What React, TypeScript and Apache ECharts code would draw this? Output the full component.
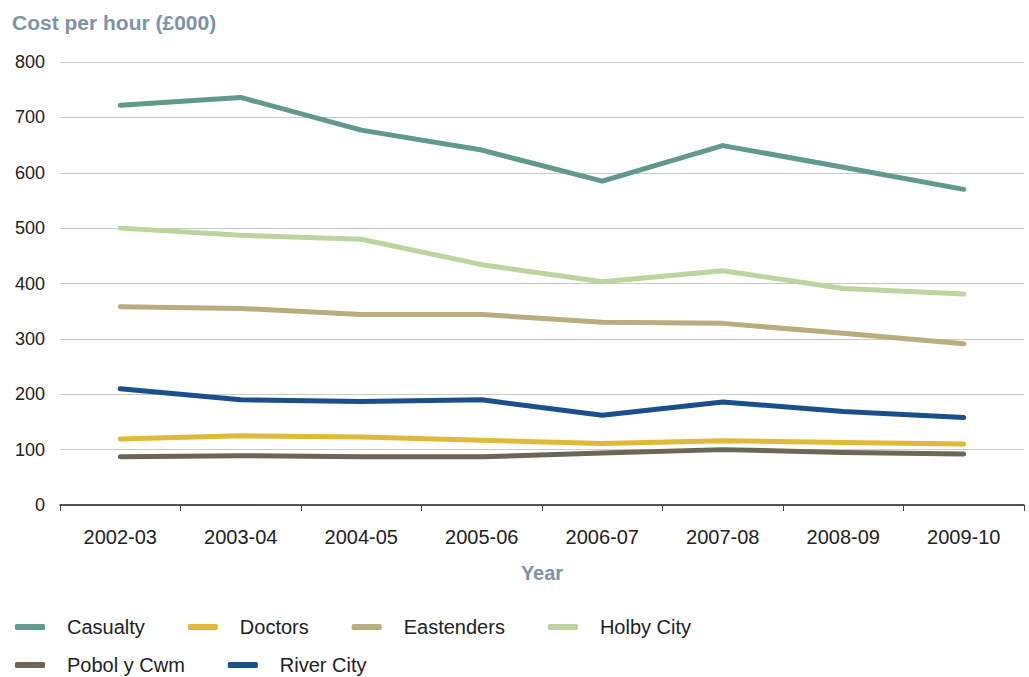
import React, { useEffect, useRef } from "react";
import * as echarts from "echarts";

const years = ["2002-03", "2003-04", "2004-05", "2005-06", "2006-07", "2007-08", "2008-09", "2009-10"];
const casualty = [722, 736, 677, 641, 585, 649, 610, 570];
const doctors = [119, 125, 123, 117, 111, 116, 113, 110];
const eastenders = [358, 355, 344, 344, 330, 328, 310, 291];
const holbyCity = [500, 487, 480, 434, 403, 423, 391, 381];
const pobolYCwm = [87, 89, 87, 87, 94, 100, 95, 92];
const riverCity = [210, 190, 187, 190, 162, 186, 169, 158];

const seriesDefs = [
  { name: "Casualty", data: casualty, color: "#5f9a8a" },
  { name: "Doctors", data: doctors, color: "#e0b93a" },
  { name: "Eastenders", data: eastenders, color: "#b8ad7f" },
  { name: "Holby City", data: holbyCity, color: "#bcd59e" },
  { name: "Pobol y Cwm", data: pobolYCwm, color: "#6b6655" },
  { name: "River City", data: riverCity, color: "#1a4f8d" },
];

const legendRow1 = ["Casualty", "Doctors", "Eastenders", "Holby City"];
const legendRow2 = ["Pobol y Cwm", "River City"];

const FONT = "'Liberation Sans', Arial, sans-serif";

export default function App() {
  const ref = useRef<HTMLDivElement>(null);
  useEffect(() => {
    document.body.style.margin = "0";
    if (!ref.current) return;
    const chart = echarts.init(ref.current, undefined, { renderer: "svg" });
    const legendBase = {
      left: 15,
      padding: 0,
      itemWidth: 30,
      itemHeight: 6,
      itemGap: 43,
      icon: "roundRect",
      orient: "horizontal",
      textStyle: { fontFamily: FONT, fontSize: 20, color: "#222", padding: [0, 0, 0, 17] },
    };
    chart.setOption({
      animation: false,
      title: {
        text: "Cost per hour (£000)",
        left: 7,
        top: 7,
        textStyle: { fontFamily: FONT, fontSize: 21, fontWeight: "bold", color: "#7d93a8" },
      },
      legend: [
        { ...legendBase, top: 617, data: legendRow1 },
        { ...legendBase, top: 655, data: legendRow2 },
      ],
      grid: { left: 60, right: 5, top: 62, bottom: 172 },
      xAxis: {
        type: "category",
        data: years,
        boundaryGap: true,
        name: "Year",
        nameLocation: "middle",
        nameGap: 58,
        nameTextStyle: { fontFamily: FONT, fontSize: 20, fontWeight: "bold", color: "#7d93a8" },
        axisLine: { lineStyle: { color: "#222", width: 1.5 } },
        axisTick: { show: true, length: 6, lineStyle: { color: "#444" } },
        axisLabel: { fontFamily: FONT, fontSize: 20, color: "#222", margin: 22 },
      },
      yAxis: {
        type: "value",
        min: 0,
        max: 800,
        interval: 100,
        axisLine: { show: false },
        axisTick: { show: false },
        axisLabel: { fontFamily: FONT, fontSize: 18, color: "#222", margin: 15 },
        splitLine: { lineStyle: { color: "#c8c8c8", width: 1 } },
      },
      series: seriesDefs.map((s) => ({
        name: s.name,
        type: "line",
        data: s.data,
        symbol: "none",
        color: s.color,
        lineStyle: { width: 5, color: s.color, cap: "round", join: "round" },
      })),
    });
    return () => chart.dispose();
  }, []);
  return <div ref={ref} style={{ width: 1029, height: 677 }} />;
}
